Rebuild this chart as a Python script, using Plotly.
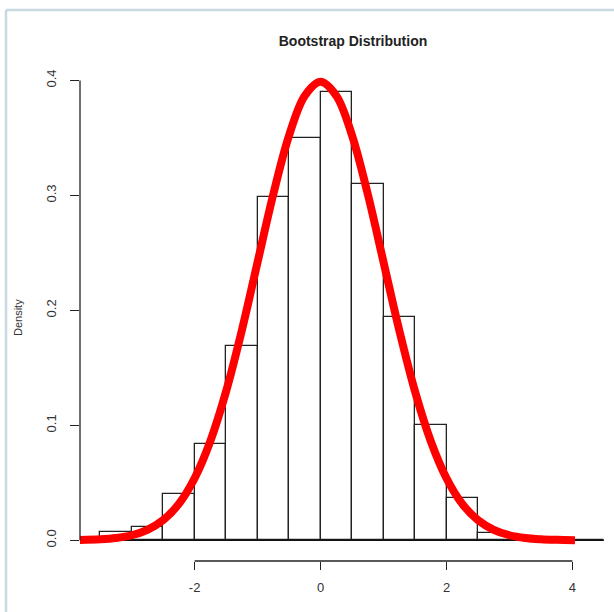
import plotly.graph_objects as go

# Histogram bins (edges) and densities
bin_edges = [-3.5, -3.0, -2.5, -2.0, -1.5, -1.0, -0.5, 0.0, 0.5, 1.0, 1.5, 2.0, 2.5, 3.0, 3.5, 4.0, 4.5]
bin_density = [0.007, 0.012, 0.040, 0.084, 0.169, 0.299, 0.350, 0.390, 0.310, 0.194, 0.100, 0.037, 0.006, 0.0, 0.0, 0.0]

# Red density curve
curve_x = [-3.83, -3.5, -3.25, -3.0, -2.75, -2.5, -2.25, -2.0, -1.75, -1.5, -1.25, -1.0, -0.75, -0.5, -0.25,
           0.0, 0.25, 0.5, 0.75, 1.0, 1.25, 1.5, 1.75, 2.0, 2.25, 2.5, 2.75, 3.0, 3.25, 3.5, 3.75, 4.04]
curve_y = [0.0003, 0.0009, 0.0020, 0.0044, 0.0091, 0.0175, 0.0317, 0.0540, 0.0863, 0.1295, 0.1826, 0.2420,
           0.3011, 0.3521, 0.3867, 0.3989, 0.3867, 0.3521, 0.3011, 0.2420, 0.1826, 0.1295, 0.0863, 0.0540,
           0.0317, 0.0175, 0.0091, 0.0044, 0.0020, 0.0009, 0.0004, 0.0001]

x_ticks = [-2, 0, 2, 4]
x_tick_labels = ["-2", "0", "2", "4"]
y_ticks = [0.0, 0.1, 0.2, 0.3, 0.4]
y_tick_labels = ["0.0", "0.1", "0.2", "0.3", "0.4"]

title_text = "Bootstrap Distribution"
y_label = "Density"

centers = [(a + b) / 2 for a, b in zip(bin_edges[:-1], bin_edges[1:])]
widths = [b - a for a, b in zip(bin_edges[:-1], bin_edges[1:])]

fig = go.Figure()
fig.add_trace(go.Scatter(x=[bin_edges[0], bin_edges[-1]], y=[0, 0], mode="lines",
                         line=dict(color="#111", width=1.6), showlegend=False, hoverinfo="skip"))
fig.add_trace(go.Bar(x=centers, y=bin_density, width=widths,
                     marker=dict(color="white", line=dict(color="#222", width=1.3)),
                     showlegend=False))
fig.add_trace(go.Scatter(x=curve_x, y=curve_y, mode="lines", line=dict(color="#ff0000", width=8, shape="spline"),
                         showlegend=False))

W, H = 614, 612
L, R, T, B = 80, 0, 62, 51
pw, ph = W - L - R, H - T - B

def px_to_paper_x(px):
    return (px - L) / pw

def px_to_paper_y(py):
    return (H - B - py) / ph

font = "Liberation Sans, Arial, sans-serif"

fig.update_layout(
    width=W, height=H,
    margin=dict(l=L, r=R, t=T, b=B, autoexpand=False),
    plot_bgcolor="white", paper_bgcolor="white",
    bargap=0,
    title=dict(text="<b>" + title_text + "</b>", xref="container", yref="container",
               x=353 / W, y=1 - 41 / H, xanchor="center", yanchor="middle",
               font=dict(family=font, size=14, color="#222")),
    xaxis=dict(range=[-3.82, 4.66], tickvals=x_ticks, ticktext=x_tick_labels,
               showgrid=False, zeroline=False, showline=False,
               ticks="outside", ticklen=8, tickwidth=1.3, tickcolor="#222", ticklabelstandoff=6,
               tickfont=dict(family=font, size=13, color="#333")),
    yaxis=dict(range=[-0.018, 0.416], tickvals=y_ticks, ticktext=y_tick_labels, tickangle=-90,
               showgrid=False, zeroline=False, showline=False,
               ticks="outside", ticklen=9, tickwidth=1.3, tickcolor="#222", ticklabelstandoff=9,
               tickfont=dict(family=font, size=13, color="#333")),
    shapes=[
        dict(type="line", xref="x", yref="paper", x0=min(x_ticks), x1=max(x_ticks), y0=0, y1=0,
             line=dict(color="#222", width=1.3)),
        dict(type="line", xref="paper", yref="y", x0=0, x1=0, y0=min(y_ticks), y1=max(y_ticks),
             line=dict(color="#222", width=1.3)),
        dict(type="line", xref="paper", yref="paper", x0=px_to_paper_x(6), x1=px_to_paper_x(6),
             y0=px_to_paper_y(10), y1=px_to_paper_y(612), line=dict(color="#c9d9e2", width=2.5)),
        dict(type="line", xref="paper", yref="paper", x0=px_to_paper_x(6), x1=px_to_paper_x(614),
             y0=px_to_paper_y(10), y1=px_to_paper_y(10), line=dict(color="#c9d9e2", width=2.5)),
    ],
    annotations=[
        dict(text=y_label, xref="paper", yref="paper", x=px_to_paper_x(18), y=px_to_paper_y(318),
             textangle=-90, showarrow=False, font=dict(family=font, size=11, color="#333"),
             xanchor="center", yanchor="middle"),
    ],
)

fig.write_html("out.html", config={"displayModeBar": False},
               post_script="document.body.style.margin='0';document.body.style.overflow='hidden';")
